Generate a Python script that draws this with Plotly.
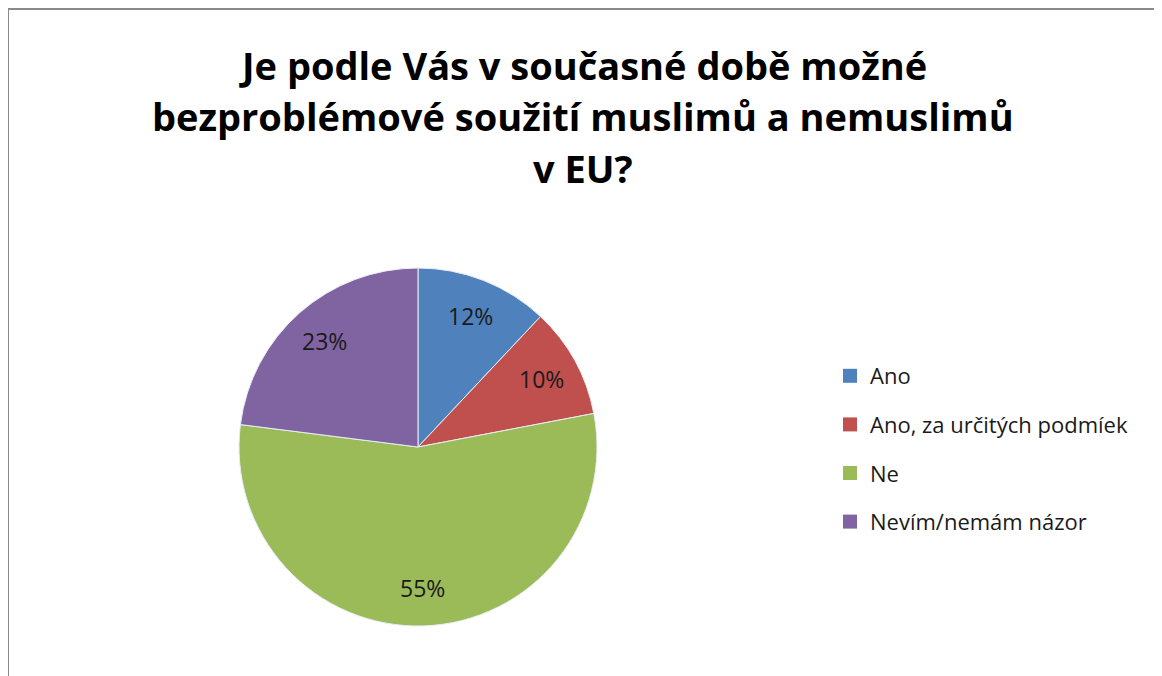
import math
import plotly.graph_objects as go

# Survey answers and shares (percent)
categories = ["Ano", "Ano, za určitých podmíek", "Ne", "Nevím/nemám názor"]
shares = [12, 10, 55, 23]
colors = ["#4F81BD", "#C0504D", "#9BBB59", "#8064A2"]

title_lines = [
    "Je podle Vás v současné době možné",
    "bezproblémové soužití muslimů a nemuslimů",
    "v EU?",
]

# The page body has an 8px margin, so the figure is the window minus that.
W, H = 1154, 668
FONT = "Open Sans, Lato, sans-serif"

# pie placement in pixels (figure coords, from top-left)
CX, CY, R = 410, 439, 179
LABEL_R = 0.79

fig = go.Figure()

fig.add_trace(go.Pie(
    labels=categories, values=shares,
    marker=dict(colors=colors, line=dict(color="#e8eef5", width=1)),
    sort=False, direction="clockwise", rotation=0,
    textinfo="none",
    domain=dict(x=[(CX - R) / W, (CX + R) / W],
                y=[1 - (CY + R) / H, 1 - (CY - R) / H]),
    showlegend=False, hoverinfo="label+percent",
))

# Percent labels placed at the middle angle of each slice, like Excel does.
annotations = []
total = sum(shares)
acc = 0
for v in shares:
    mid = (acc + v / 2) / total * 2 * math.pi
    acc += v
    px = CX + LABEL_R * R * math.sin(mid)
    py = CY - LABEL_R * R * math.cos(mid)
    annotations.append(dict(
        x=px / W, y=1 - py / H, xref="paper", yref="paper",
        text=f"{round(v / total * 100)}%", showarrow=False,
        xanchor="center", yanchor="middle",
        font=dict(family=FONT, size=23, color="#1a1a1a"),
    ))

for line, ty in zip(title_lines, [57, 108, 160]):
    annotations.append(dict(
        x=575 / W, y=1 - ty / H, xref="paper", yref="paper",
        text=f"<b>{line}</b>", showarrow=False,
        xanchor="center", yanchor="middle",
        font=dict(family=FONT, size=38, color="#000000"),
    ))

# Legend entries as square markers, one group each so the row gap can be set.
for name, color in zip(categories, colors):
    fig.add_trace(go.Scatter(
        x=[None], y=[None], mode="markers", name=name,
        legendgroup=name,
        marker=dict(symbol="square", size=14, color=color),
    ))

fig.update_layout(
    width=W, height=H,
    margin=dict(l=0, r=0, t=0, b=0),
    paper_bgcolor="white", plot_bgcolor="white",
    xaxis=dict(visible=False), yaxis=dict(visible=False),
    annotations=annotations,
    legend=dict(
        x=822 / W, y=1 - 347 / H, xanchor="left", yanchor="top",
        font=dict(family=FONT, size=22, color="#1a1a1a"),
        tracegroupgap=17, itemsizing="trace", itemwidth=30,
        bgcolor="rgba(0,0,0,0)",
    ),
    shapes=[
        dict(type="line", xref="paper", yref="paper",
             x0=0, x1=1.0, y0=1 - 1 / H, y1=1 - 1 / H,
             line=dict(color="#8a8a8a", width=2)),
        dict(type="line", xref="paper", yref="paper",
             x0=0, x1=0, y0=0, y1=1,
             line=dict(color="#8a8a8a", width=2)),
    ],
)

fig.write_html("out.html")
